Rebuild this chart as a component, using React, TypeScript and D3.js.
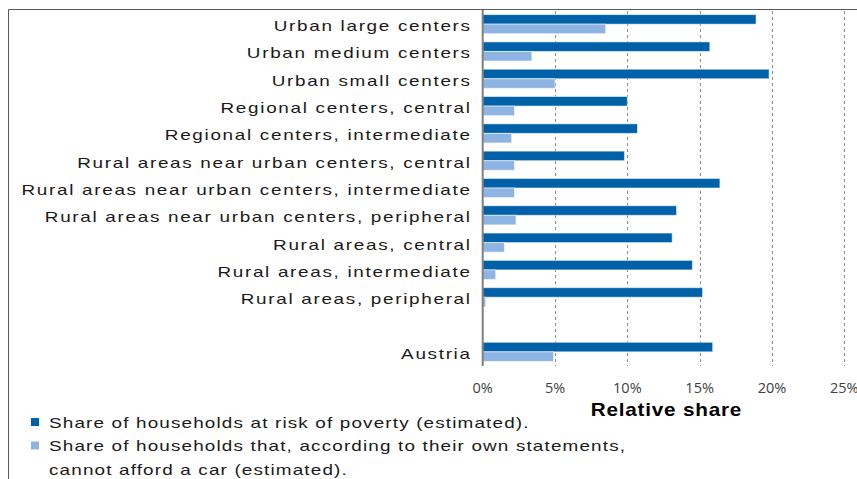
import React from "react";
import * as d3 from "d3";

// Region types (top to bottom); Austria is shown separately after a gap
const categories = [
  "Urban large centers",
  "Urban medium centers",
  "Urban small centers",
  "Regional centers, central",
  "Regional centers, intermediate",
  "Rural areas near urban centers, central",
  "Rural areas near urban centers, intermediate",
  "Rural areas near urban centers, peripheral",
  "Rural areas, central",
  "Rural areas, intermediate",
  "Rural areas, peripheral",
  "Austria",
];

// Share of households at risk of poverty (%)
const povertyShare = [18.9, 15.7, 19.8, 10.0, 10.7, 9.8, 16.4, 13.4, 13.1, 14.5, 15.2, 15.9];
// Share of households that cannot afford a car (%)
const noCarShare = [8.5, 3.4, 5.0, 2.2, 2.0, 2.2, 2.2, 2.3, 1.5, 0.9, 0.2, 4.9];

const xTicks = [0, 5, 10, 15, 20, 25];
const seriesKeys = ["poverty", "noCar"];
const seriesColors = ["#0061a9", "#8db4e2"];
const legendLines = [
  ["Share of households at risk of poverty (estimated)."],
  [
    "Share of households that, according to their own statements,",
    "cannot afford a car (estimated).",
  ],
];
const axisTitle = "Relative share";

const W = 857;
const H = 479;
const GAP_KEY = "__gap__";

const FONT = "'Liberation Sans', Arial, sans-serif";

function WideText({
  x,
  y,
  text,
  anchor = "start",
  size = 14,
  sx = 1.35,
  spacing = 1.25,
  weight = "normal",
  fill = "#1a1a1a",
}: {
  x: number;
  y: number;
  text: string;
  anchor?: "start" | "middle" | "end";
  size?: number;
  sx?: number;
  spacing?: number;
  weight?: string;
  fill?: string;
}) {
  const shift = anchor === "end" ? spacing : anchor === "middle" ? spacing / 2 : 0;
  return (
    <g transform={`translate(${x},${y}) scale(${sx},1)`}>
      <text
        x={shift}
        y={0}
        textAnchor={anchor}
        fontFamily={FONT}
        fontSize={size}
        fontWeight={weight}
        fill={fill}
        style={{ letterSpacing: `${spacing}px` }}
      >
        {text}
      </text>
    </g>
  );
}

export default function App() {
  const rows = [...categories.slice(0, categories.length - 1), GAP_KEY, categories[categories.length - 1]];

  const x = d3.scaleLinear().domain([0, 25]).range([482.7, 844.3]);
  const y = d3
    .scaleBand<string>()
    .domain(rows)
    .range([10.5, 365.5])
    .paddingInner(0.3)
    .paddingOuter(0.15);
  const inner = d3.scaleBand<string>().domain(seriesKeys).range([0, y.bandwidth()]).padding(0);

  const plotTop = 11;
  const plotBottom = 366;

  const series = [povertyShare, noCarShare];

  return (
    <svg
      width={W}
      height={H}
      style={{ position: "absolute", left: 0, top: 0, display: "block", background: "#fff" }}
    >
      {/* outer frame */}
      <line x1={8.5} x2={W} y1={9.5} y2={9.5} stroke="#595959" strokeWidth={1} />
      <line x1={8.5} x2={8.5} y1={9.5} y2={H} stroke="#595959" strokeWidth={1} />

      {/* dashed vertical gridlines */}
      {xTicks
        .filter((t) => t > 0)
        .map((t) => (
          <line
            key={`g${t}`}
            x1={Math.round(x(t)) + 0.5}
            x2={Math.round(x(t)) + 0.5}
            y1={plotTop}
            y2={plotBottom}
            stroke="#8c8c8c"
            strokeWidth={1}
            strokeDasharray="3,3"
          />
        ))}

      {/* bars */}
      {categories.map((cat, i) => {
        const y0 = y(cat)!;
        return (
          <g key={cat}>
            {seriesKeys.map((k, s) => (
              <rect
                key={k}
                x={x(0)}
                y={y0 + inner(k)!}
                width={x(series[s][i]) - x(0)}
                height={inner.bandwidth()}
                fill={seriesColors[s]}
                stroke="rgba(255,255,255,0.55)"
                strokeWidth={1}
              />
            ))}
          </g>
        );
      })}

      {/* value axis line at zero */}
      <line x1={x(0)} x2={x(0)} y1={plotTop - 1} y2={plotBottom} stroke="#808080" strokeWidth={2} />

      {/* category labels */}
      {categories.map((cat) => (
        <WideText key={`l-${cat}`} x={470} y={y(cat)! + y.bandwidth() / 2 + 7} text={cat} anchor="end" />
      ))}

      {/* tick labels */}
      {xTicks.map((t) => (
        <text
          key={`t${t}`}
          x={x(t)}
          y={393}
          textAnchor="middle"
          fontFamily="'Open Sans', sans-serif"
          fontSize={14.5}
          fill="#404040"
        >
          {`${t}%`}
        </text>
      ))}

      {/* axis title */}
      <WideText x={666} y={415.5} text={axisTitle} anchor="middle" size={18} sx={1.15} spacing={0.7} weight="bold" fill="#000" />

      {/* legend */}
      {(() => {
        let line = 0;
        return legendLines.map((lines, s) => {
          const first = line;
          line += lines.length;
          return (
            <g key={`lg${s}`}>
              <rect x={31} y={418 + first * 23.5} width={8} height={8} fill={seriesColors[s]} />
              {lines.map((txt, j) => (
                <WideText
                  key={j}
                  x={49}
                  y={427.5 + (first + j) * 23.5}
                  text={txt}
                  spacing={0.85}
                />
              ))}
            </g>
          );
        });
      })()}
    </svg>
  );
}
